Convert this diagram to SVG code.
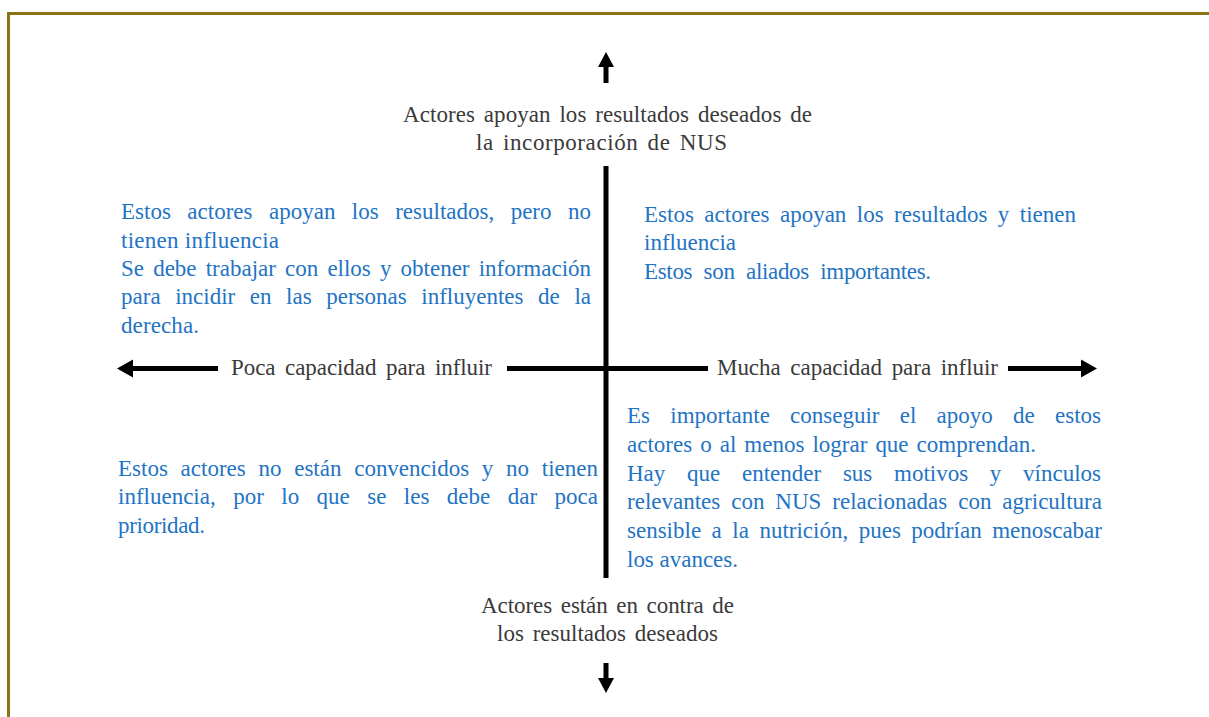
<svg xmlns="http://www.w3.org/2000/svg" width="1209" height="717" viewBox="0 0 1209 717">
<rect x="0" y="0" width="1209" height="717" fill="#fff"/>
<rect x="8.5" y="13.5" width="1230" height="730" fill="none" stroke="#8b7414" stroke-width="3"/>
<g id="connectors" fill="#000">
  <rect x="603.5" y="166" width="5" height="412"/>
  <rect x="507" y="366" width="201" height="5"/>
  <path id="arrow-up" d="M606 52 L614 67 L608.5 67 L608.5 83 L603.5 83 L603.5 67 L598 67 Z"/>
  <path id="arrow-down" d="M606 693 L614 678 L608.5 678 L608.5 663 L603.5 663 L603.5 678 L598 678 Z"/>
  <path id="arrow-left" d="M117 368.5 L133 359.5 L133 366 L218 366 L218 371 L133 371 L133 377.5 Z"/>
  <path id="arrow-right" d="M1097 368.5 L1081 359.5 L1081 366 L1008 366 L1008 371 L1081 371 L1081 377.5 Z"/>
</g>
<g id="label-top" fill="#3a3a3a">
  <text style="font-family:'Liberation Serif','Times New Roman',serif;font-size:23px" x="403" y="122" textLength="409" lengthAdjust="spacing" word-spacing="3">Actores apoyan los resultados deseados de</text>
  <text style="font-family:'Liberation Serif','Times New Roman',serif;font-size:23px" x="476" y="150" textLength="251" lengthAdjust="spacing" word-spacing="3">la incorporación de NUS</text>
</g>
<g id="label-left" fill="#3a3a3a">
  <text style="font-family:'Liberation Serif','Times New Roman',serif;font-size:23px" x="231" y="375" textLength="261" lengthAdjust="spacing" word-spacing="4">Poca capacidad para influir</text>
</g>
<g id="label-right" fill="#3a3a3a">
  <text style="font-family:'Liberation Serif','Times New Roman',serif;font-size:23px" x="717" y="375" textLength="281" lengthAdjust="spacing" word-spacing="4">Mucha capacidad para influir</text>
</g>
<g id="label-bottom" fill="#3a3a3a">
  <text style="font-family:'Liberation Serif','Times New Roman',serif;font-size:23px" x="481" y="613" textLength="253" lengthAdjust="spacing" word-spacing="3">Actores están en contra de</text>
  <text style="font-family:'Liberation Serif','Times New Roman',serif;font-size:23px" x="497" y="641" textLength="221" lengthAdjust="spacing" word-spacing="3">los resultados deseados</text>
</g>
<g id="quadrant-top-left" fill="#1f74c4">
  <text style="font-family:'Liberation Serif','Times New Roman',serif;font-size:23px" x="121" y="219" textLength="470" lengthAdjust="spacing" word-spacing="10.7">Estos actores apoyan los resultados, pero no</text>
  <text style="font-family:'Liberation Serif','Times New Roman',serif;font-size:23px" x="121" y="248" textLength="158" lengthAdjust="spacing">tienen influencia</text>
  <text style="font-family:'Liberation Serif','Times New Roman',serif;font-size:23px" x="121" y="276" textLength="470" lengthAdjust="spacing" word-spacing="3.4">Se debe trabajar con ellos y obtener información</text>
  <text style="font-family:'Liberation Serif','Times New Roman',serif;font-size:23px" x="121" y="304" textLength="470" lengthAdjust="spacing" word-spacing="8.8">para incidir en las personas influyentes de la</text>
  <text style="font-family:'Liberation Serif','Times New Roman',serif;font-size:23px" x="121" y="333" textLength="78" lengthAdjust="spacing">derecha.</text>
</g>
<g id="quadrant-top-right" fill="#1f74c4">
  <text style="font-family:'Liberation Serif','Times New Roman',serif;font-size:23px" x="644" y="222" textLength="432" lengthAdjust="spacing" word-spacing="4.7">Estos actores apoyan los resultados y tienen</text>
  <text style="font-family:'Liberation Serif','Times New Roman',serif;font-size:23px" x="644" y="250" textLength="92" lengthAdjust="spacing">influencia</text>
  <text style="font-family:'Liberation Serif','Times New Roman',serif;font-size:23px" x="644" y="279" textLength="287" lengthAdjust="spacing" word-spacing="6">Estos son aliados importantes.</text>
</g>
<g id="quadrant-bottom-right" fill="#1f74c4">
  <text style="font-family:'Liberation Serif','Times New Roman',serif;font-size:23px" x="627" y="423" textLength="474" lengthAdjust="spacing" word-spacing="14.5">Es importante conseguir el apoyo de estos</text>
  <text style="font-family:'Liberation Serif','Times New Roman',serif;font-size:23px" x="627" y="452" textLength="409" lengthAdjust="spacing" word-spacing="2.3">actores o al menos lograr que comprendan.</text>
  <text style="font-family:'Liberation Serif','Times New Roman',serif;font-size:23px" x="627" y="481" textLength="474" lengthAdjust="spacing" word-spacing="16">Hay que entender sus motivos y vínculos</text>
  <text style="font-family:'Liberation Serif','Times New Roman',serif;font-size:23px" x="627" y="509" textLength="475" lengthAdjust="spacing" word-spacing="5.2">relevantes con NUS relacionadas con agricultura</text>
  <text style="font-family:'Liberation Serif','Times New Roman',serif;font-size:23px" x="627" y="538" textLength="475" lengthAdjust="spacing" word-spacing="4.75">sensible a la nutrición, pues podrían menoscabar</text>
  <text style="font-family:'Liberation Serif','Times New Roman',serif;font-size:23px" x="627" y="567" textLength="111" lengthAdjust="spacing">los avances.</text>
</g>
<g id="quadrant-bottom-left" fill="#1f74c4">
  <text style="font-family:'Liberation Serif','Times New Roman',serif;font-size:23px" x="118" y="476" textLength="480" lengthAdjust="spacing" word-spacing="7">Estos actores no están convencidos y no tienen</text>
  <text style="font-family:'Liberation Serif','Times New Roman',serif;font-size:23px" x="118" y="504" textLength="480" lengthAdjust="spacing" word-spacing="11.7">influencia, por lo que se les debe dar poca</text>
  <text style="font-family:'Liberation Serif','Times New Roman',serif;font-size:23px" x="118" y="533" textLength="87" lengthAdjust="spacing">prioridad.</text>
</g>
</svg>
